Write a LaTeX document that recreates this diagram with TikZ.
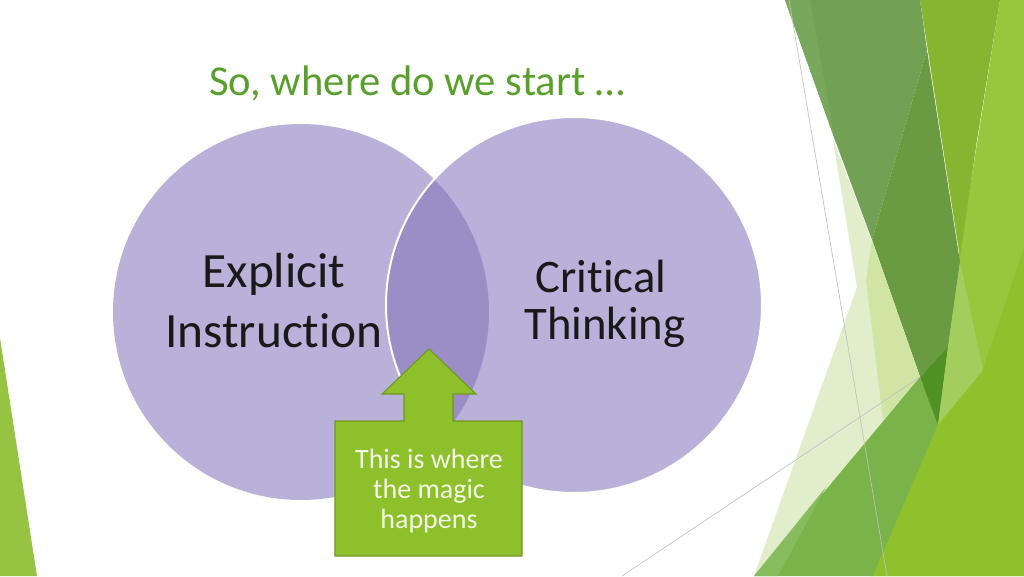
\documentclass[tikz,border=0pt]{standalone}
\usepackage{fontspec}
\setmainfont{Carlito}[Ligatures={NoCommon}]
\definecolor{titlegreen}{RGB}{88,160,43}
\definecolor{circ}{RGB}{185,177,217}
\definecolor{lens}{RGB}{155,141,197}
\definecolor{calfill}{RGB}{141,192,42}
\definecolor{caldraw}{RGB}{112,152,34}
\definecolor{caltext}{RGB}{244,248,230}
\definecolor{gM}{RGB}{114,160,84}
\definecolor{gMtwo}{RGB}{121,167,92}
\definecolor{gD}{RGB}{106,154,66}
\definecolor{gO}{RGB}{134,181,49}
\definecolor{gL}{RGB}{151,199,61}
\definecolor{gPone}{RGB}{226,238,203}
\definecolor{gPtwo}{RGB}{208,229,164}
\definecolor{gK}{RGB}{80,145,37}
\definecolor{gB}{RGB}{121,179,73}
\definecolor{gBtwo}{RGB}{135,189,94}
\definecolor{gY}{RGB}{142,193,43}
\definecolor{gS}{RGB}{163,206,94}
\definecolor{gEdge}{RGB}{150,196,66}
\definecolor{thinline}{RGB}{192,192,192}
\begin{document}
\begin{tikzpicture}[x=0.75pt,y=-0.75pt,
  circtext/.style={anchor=base, inner sep=0pt, text=black!90, font=\fontsize{37}{40}\selectfont},
  caltxt/.style={anchor=base, inner sep=0pt, text=caltext, font=\fontsize{21}{24}\selectfont},
  hair/.style={draw=thinline, line width=0.5pt}]
\useasboundingbox (0,0) rectangle (1024,576);
\fill[white] (0,0) rectangle (1024,576);
% right facet decoration
\fill[gL] (1000,0) -- (1024,0) -- (1024,576) -- (870,576) -- (960,250) -- cycle;
\fill[gO] (920,0) -- (1000,0) -- (977,140) -- (960,258) -- cycle;
\fill[gM] (785,0) -- (920,0) -- (927,50) -- (872,240) -- (835,140) -- cycle;
\fill[gMtwo] (785,0) -- (810,0) -- (835,140) -- cycle;
\fill[gD] (927,50) -- (960,262) -- (948,347) -- (920,377) -- (872,240) -- cycle;
\fill[gPone] (833,140) -- (872,240) -- (920,377) -- (754,576) -- (857,287) -- cycle;
\fill[gPtwo] (872,240) -- (920,377) -- (883,420) -- (866,280) -- cycle;
\fill[gB] (920,377) -- (938,425) -- (873,576) -- (754,576) -- cycle;
\fill[gBtwo] (754,576) -- (778,576) -- (826,487) -- cycle;
\fill[gK] (920,377) -- (948,347) -- (938,425) -- cycle;
\fill[gS] (960,262) -- (983,370) -- (938,425) -- (948,347) -- cycle;
\fill[gY] (1024,247) -- (1024,576) -- (873,576) -- (938,425) -- (982,372) -- cycle;
\draw[hair] (789,0) -- (887,576);
\draw[hair] (622,576) -- (920,377);
% left edge facet
\fill[gEdge] (0,338) -- (37,576) -- (0,576) -- cycle;
% title
\node[anchor=base west, inner sep=0pt, text=titlegreen, font=\fontsize{32}{35}\selectfont] (title) at (209,95) {So, where do we start …};
% venn circles
\fill[circ] (301,312) circle (188);
\fill[circ] (574,305) circle (188);
\begin{scope}
  \clip (301,312) circle (188);
  \fill[lens] (574,305) circle (188);
\end{scope}
\draw[white, line width=1.5pt] (574,305) circle (188);
\node[circtext] (explicit) at (274,287) {Explicit};
\node[circtext] (instruction) at (274,347) {Instruction};
\node[circtext, font=\fontsize{35}{38}\selectfont] (critical) at (601,292) {Critical};
\node[circtext, font=\fontsize{35}{38}\selectfont] (thinking) at (605,339) {Thinking};
% callout
\draw[fill=calfill, draw=caldraw, line width=0.8pt, line join=miter]
  (335,421) -- (404,421) -- (404,394) -- (382,394) -- (429,349) -- (476,394)
  -- (453,394) -- (453,421) -- (522,421) -- (522,556) -- (335,556) -- cycle;
\node[caltxt] (cal1) at (429,468) {This is where};
\node[caltxt] (cal2) at (429,498) {the magic};
\node[caltxt] (cal3) at (429,528) {happens};
\end{tikzpicture}
\end{document}
